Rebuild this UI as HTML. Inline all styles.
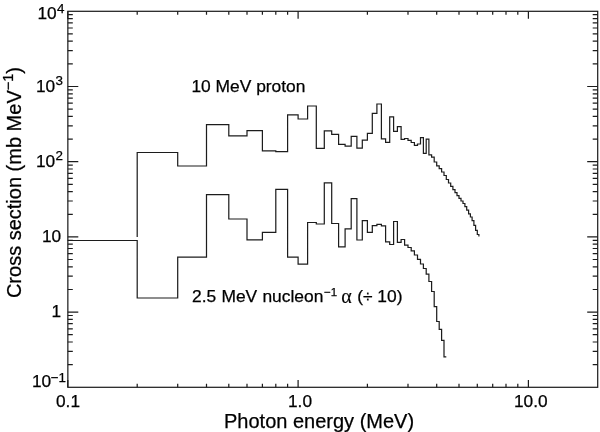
<!DOCTYPE html>
<html><head><meta charset="utf-8"><title>Cross section</title>
<style>
html,body{margin:0;padding:0;background:#fff;}
svg{display:block;}
text{font-family:"Liberation Sans",sans-serif;fill:#000;stroke:#000;stroke-width:0.25px;}
.t{font-size:17.3px;}
.s{font-size:13.4px;}
.a{font-size:20px;}
.as{font-size:14.5px;}
</style></head><body>
<svg width="600" height="432" viewBox="0 0 600 432">
<rect x="0" y="0" width="600" height="432" fill="#fff"/>
<g fill="none" stroke="#1c1c1c" stroke-width="1.22" stroke-linecap="butt" stroke-linejoin="miter">
<rect x="67.85" y="11.3" width="529.85" height="376.0"/>
<path d="M67.8 364.7 L72.8 364.7 M597.7 364.7 L592.7 364.7 M67.8 351.4 L72.8 351.4 M597.7 351.4 L592.7 351.4 M67.8 342.0 L72.8 342.0 M597.7 342.0 L592.7 342.0 M67.8 334.7 L72.8 334.7 M597.7 334.7 L592.7 334.7 M67.8 328.8 L72.8 328.8 M597.7 328.8 L592.7 328.8 M67.8 323.7 L72.8 323.7 M597.7 323.7 L592.7 323.7 M67.8 319.4 L72.8 319.4 M597.7 319.4 L592.7 319.4 M67.8 315.5 L72.8 315.5 M597.7 315.5 L592.7 315.5 M67.8 312.1 L78.3 312.1 M597.7 312.1 L587.2 312.1 M67.8 289.5 L72.8 289.5 M597.7 289.5 L592.7 289.5 M67.8 276.2 L72.8 276.2 M597.7 276.2 L592.7 276.2 M67.8 266.8 L72.8 266.8 M597.7 266.8 L592.7 266.8 M67.8 259.5 L72.8 259.5 M597.7 259.5 L592.7 259.5 M67.8 253.6 L72.8 253.6 M597.7 253.6 L592.7 253.6 M67.8 248.5 L72.8 248.5 M597.7 248.5 L592.7 248.5 M67.8 244.2 L72.8 244.2 M597.7 244.2 L592.7 244.2 M67.8 240.3 L72.8 240.3 M597.7 240.3 L592.7 240.3 M67.8 236.9 L78.3 236.9 M597.7 236.9 L587.2 236.9 M67.8 214.3 L72.8 214.3 M597.7 214.3 L592.7 214.3 M67.8 201.0 L72.8 201.0 M597.7 201.0 L592.7 201.0 M67.8 191.6 L72.8 191.6 M597.7 191.6 L592.7 191.6 M67.8 184.3 L72.8 184.3 M597.7 184.3 L592.7 184.3 M67.8 178.4 L72.8 178.4 M597.7 178.4 L592.7 178.4 M67.8 173.3 L72.8 173.3 M597.7 173.3 L592.7 173.3 M67.8 169.0 L72.8 169.0 M597.7 169.0 L592.7 169.0 M67.8 165.1 L72.8 165.1 M597.7 165.1 L592.7 165.1 M67.8 161.7 L78.3 161.7 M597.7 161.7 L587.2 161.7 M67.8 139.1 L72.8 139.1 M597.7 139.1 L592.7 139.1 M67.8 125.8 L72.8 125.8 M597.7 125.8 L592.7 125.8 M67.8 116.4 L72.8 116.4 M597.7 116.4 L592.7 116.4 M67.8 109.1 L72.8 109.1 M597.7 109.1 L592.7 109.1 M67.8 103.2 L72.8 103.2 M597.7 103.2 L592.7 103.2 M67.8 98.1 L72.8 98.1 M597.7 98.1 L592.7 98.1 M67.8 93.8 L72.8 93.8 M597.7 93.8 L592.7 93.8 M67.8 89.9 L72.8 89.9 M597.7 89.9 L592.7 89.9 M67.8 86.5 L78.3 86.5 M597.7 86.5 L587.2 86.5 M67.8 63.9 L72.8 63.9 M597.7 63.9 L592.7 63.9 M67.8 50.6 L72.8 50.6 M597.7 50.6 L592.7 50.6 M67.8 41.2 L72.8 41.2 M597.7 41.2 L592.7 41.2 M67.8 33.9 L72.8 33.9 M597.7 33.9 L592.7 33.9 M67.8 28.0 L72.8 28.0 M597.7 28.0 L592.7 28.0 M67.8 22.9 L72.8 22.9 M597.7 22.9 L592.7 22.9 M67.8 18.6 L72.8 18.6 M597.7 18.6 L592.7 18.6 M67.8 14.7 L72.8 14.7 M597.7 14.7 L592.7 14.7 M67.8 387.3 L67.8 379.9 M67.8 11.3 L67.8 18.7 M137.2 387.3 L137.2 383.8 M137.2 11.3 L137.2 14.8 M177.7 387.3 L177.7 383.8 M177.7 11.3 L177.7 14.8 M206.5 387.3 L206.5 383.8 M206.5 11.3 L206.5 14.8 M228.8 387.3 L228.8 383.8 M228.8 11.3 L228.8 14.8 M247.0 387.3 L247.0 383.8 M247.0 11.3 L247.0 14.8 M262.4 387.3 L262.4 383.8 M262.4 11.3 L262.4 14.8 M275.8 387.3 L275.8 383.8 M275.8 11.3 L275.8 14.8 M287.6 387.3 L287.6 383.8 M287.6 11.3 L287.6 14.8 M298.1 387.3 L298.1 379.9 M298.1 11.3 L298.1 18.7 M367.4 387.3 L367.4 383.8 M367.4 11.3 L367.4 14.8 M408.0 387.3 L408.0 383.8 M408.0 11.3 L408.0 14.8 M436.7 387.3 L436.7 383.8 M436.7 11.3 L436.7 14.8 M459.0 387.3 L459.0 383.8 M459.0 11.3 L459.0 14.8 M477.3 387.3 L477.3 383.8 M477.3 11.3 L477.3 14.8 M492.7 387.3 L492.7 383.8 M492.7 11.3 L492.7 14.8 M506.0 387.3 L506.0 383.8 M506.0 11.3 L506.0 14.8 M517.8 387.3 L517.8 383.8 M517.8 11.3 L517.8 14.8 M528.4 387.3 L528.4 379.9 M528.4 11.3 L528.4 18.7"/>
<path d="M137.2 237.0 L137.2 152.5 L177.7 152.5 L177.7 166.0 L206.5 166.0 L206.5 124.6 L228.8 124.6 L228.8 135.8 L247.0 135.8 L247.0 130.6 L262.4 130.6 L262.4 150.8 L275.8 150.8 L275.8 151.6 L287.6 151.6 L287.6 114.8 L298.1 114.8 L298.1 119.0 L307.6 119.0 L307.6 106.0 L316.3 106.0 L316.3 148.4 L324.3 148.4 L324.3 130.8 L331.7 130.8 L331.7 134.4 L338.6 134.4 L338.6 144.4 L345.1 144.4 L345.1 146.2 L351.2 146.2 L351.2 136.4 L356.9 136.4 L356.9 148.1 L362.3 148.1 L362.3 140.2 L367.4 140.2 L367.4 133.4 L372.3 133.4 L372.3 113.4 L376.9 113.4 L376.9 104.0 L381.4 104.0 L381.4 138.9 L385.6 138.9 L385.6 142.4 L389.7 142.4 L389.7 116.9 L393.6 116.9 L393.6 131.4 L397.4 131.4 L397.4 126.7 L401.1 126.7 L401.1 139.3 L404.6 139.3 L404.6 138.5 L408.0 138.5 L408.0 140.3 L411.2 140.3 L411.2 142.5 L414.4 142.5 L414.4 145.3 L417.5 145.3 L417.5 144.0 L420.5 144.0 L420.5 137.6 L423.4 137.6 L423.4 153.3 L426.2 153.3 L426.2 139.1 L428.9 139.1 L428.9 154.8 L431.6 154.8 L431.6 157.2 L434.2 157.2 L434.2 162.0 L436.7 162.0 L436.7 165.8 L439.2 165.8 L439.2 168.6 L441.6 168.6 L441.6 172.0 L444.0 172.0 L444.0 175.5 L446.3 175.5 L446.3 179.5 L448.5 179.5 L448.5 183.0 L450.7 183.0 L450.7 186.4 L452.9 186.4 L452.9 189.6 L455.0 189.6 L455.0 192.7 L457.0 192.7 L457.0 195.7 L459.0 195.7 L459.0 198.4 L461.0 198.4 L461.0 201.0 L463.0 201.0 L463.0 203.5 L464.9 203.5 L464.9 206.6 L466.7 206.6 L466.7 210.2 L468.6 210.2 L468.6 213.9 L470.4 213.9 L470.4 217.0 L472.1 217.0 L472.1 220.7 L473.9 220.7 L473.9 225.4 L475.6 225.4 L475.6 230.3 L477.3 230.3 L477.3 234.5 L478.9 234.5 L478.9 236.5"/>
<path d="M67.8 240.5 L137.2 240.5 L137.2 298.0 L177.7 298.0 L177.7 257.1 L206.5 257.1 L206.5 194.7 L228.8 194.7 L228.8 219.0 L247.0 219.0 L247.0 239.8 L262.4 239.8 L262.4 232.4 L275.8 232.4 L275.8 189.4 L287.6 189.4 L287.6 257.2 L298.1 257.2 L298.1 264.1 L307.6 264.1 L307.6 222.5 L316.3 222.5 L316.3 224.0 L324.3 224.0 L324.3 182.8 L331.7 182.8 L331.7 223.5 L338.6 223.5 L338.6 246.9 L345.1 246.9 L345.1 228.8 L351.2 228.8 L351.2 198.6 L356.9 198.6 L356.9 240.0 L362.3 240.0 L362.3 220.7 L367.4 220.7 L367.4 232.4 L372.3 232.4 L372.3 225.6 L376.9 225.6 L376.9 224.3 L381.4 224.3 L381.4 225.8 L385.6 225.8 L385.6 241.8 L389.7 241.8 L389.7 244.5 L393.6 244.5 L393.6 221.5 L397.4 221.5 L397.4 242.4 L401.1 242.4 L401.1 239.5 L404.6 239.5 L404.6 245.2 L408.0 245.2 L408.0 247.5 L411.2 247.5 L411.2 250.8 L414.4 250.8 L414.4 255.0 L417.5 255.0 L417.5 259.3 L420.5 259.3 L420.5 264.0 L423.4 264.0 L423.4 268.5 L426.2 268.5 L426.2 274.1 L428.9 274.1 L428.9 281.5 L431.6 281.5 L431.6 291.5 L434.2 291.5 L434.2 306.6 L436.7 306.6 L436.7 321.5 L439.2 321.5 L439.2 329.3 L441.6 329.3 L441.6 340.3 L444.0 340.3 L444.0 356.8 L446.3 356.8"/>
</g>
<!-- y tick labels -->
<text class="t" x="56.7" y="19.3" text-anchor="end">10</text><text class="s" x="57.0" y="13.0">4</text>
<text class="t" x="55.2" y="91.6" text-anchor="end">10</text><text class="s" x="55.6" y="85.0">3</text>
<text class="t" x="55.2" y="166.8" text-anchor="end">10</text><text class="s" x="55.6" y="160.2">2</text>
<text class="t" x="61.2" y="241.6" text-anchor="end">10</text>
<text class="t" x="61.2" y="316.8" text-anchor="end">1</text>
<text class="t" x="51.2" y="387.4" text-anchor="end">10</text><text class="s" x="50.8" y="381.5">−1</text>
<!-- x tick labels -->
<text class="t" x="68" y="406.8" text-anchor="middle">0.1</text>
<text class="t" x="300" y="406.8" text-anchor="middle">1.0</text>
<text class="t" x="530.8" y="406.8" text-anchor="middle">10.0</text>
<!-- axis titles -->
<text class="a" x="224.0" y="427.8">Photon energy (MeV)</text>
<text class="a" transform="translate(21 298.1) rotate(-90)">Cross section (mb MeV<tspan class="as" dy="-7.6">−1</tspan><tspan dy="7.6">)</tspan></text>
<!-- annotations -->
<text class="t" x="191.4" y="91.8" style="font-size:17.4px">10 MeV proton</text>
<text class="t" x="192.0" y="301.9" style="font-size:17.4px;word-spacing:0.4px">2.5 MeV nucleon</text>
<text x="324.0" y="295.7" style="font-size:11.5px">−1</text>
<text x="341.3" y="302.6" style="font-size:20px;stroke-width:0.15px;font-family:'Liberation Serif',serif">α</text>
<text class="t" x="357.2" y="301.9" style="font-size:17.4px">(÷ 10)</text>
</svg>
</body></html>
